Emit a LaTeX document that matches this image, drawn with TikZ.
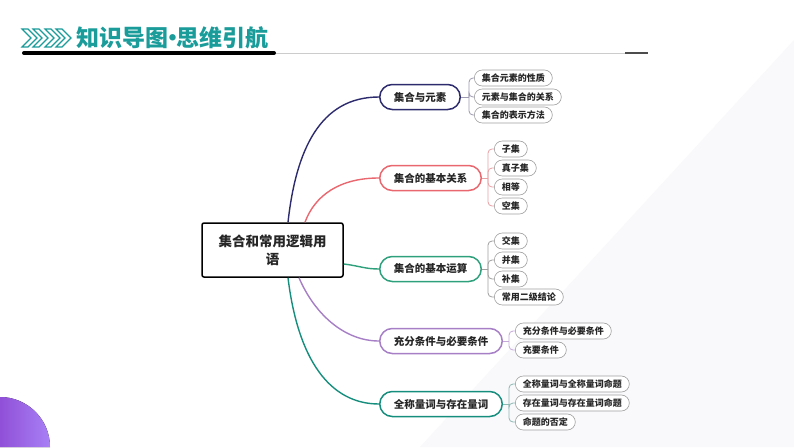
\documentclass[tikz,border=0pt]{standalone}
\usepackage{fontspec}
\setmainfont{Noto Sans CJK SC}
\definecolor{ttl}{HTML}{1A9C9A}
\definecolor{cnavy}{HTML}{2D2B6E}
\definecolor{cred}{HTML}{E9686F}
\definecolor{cgreen}{HTML}{2FA07C}
\definecolor{cpurp}{HTML}{A67FC6}
\definecolor{cteal}{HTML}{168E7E}
\definecolor{bk1}{HTML}{9E9AB0}
\definecolor{bk2}{HTML}{E8A0A5}
\definecolor{bk3}{HTML}{A0A0A0}
\definecolor{bk4}{HTML}{C5AAD8}
\definecolor{bk5}{HTML}{8FB8B2}
\definecolor{bgf}{HTML}{F9F9FC}
\definecolor{pl}{HTML}{9050D8}
\definecolor{pr}{HTML}{A880F5}
\begin{document}
\begin{tikzpicture}[x=1pt,y=-1pt,
  branch/.style={draw=#1, line width=1.5pt, rounded corners=12.5pt, fill=white, minimum height=25pt, inner xsep=14pt, inner ysep=0pt, font=\fontsize{10.5}{12}\selectfont\bfseries, text=black!85, anchor=west},
  leaf/.style={draw=gray!75, line width=0.6pt, rounded corners=8pt, fill=white, minimum height=16pt, inner xsep=7.5pt, inner ysep=0pt, font=\fontsize{9}{10}\selectfont\bfseries, text=black!85, anchor=west},
  link/.style={line width=1.4pt, draw=#1},
  brk/.style={line width=0.8pt, draw=#1, rounded corners=4pt},
  chev/.style={draw=ttl, line width=1.1pt, line join=miter}]
\useasboundingbox (0,0) rectangle (794,447);
\fill[white] (0,0) rectangle (794,447);
\fill[bgf] (420,447) -- (794,40) -- (794,447) -- cycle;
% purple corner
\fill[left color=pl, right color=pr] (0,447) -- (0,397) arc[start angle=-90, end angle=0, radius=50] -- cycle;
% title
\foreach \x in {22,33,45,56}{
  \draw[chev] (\x,29) -- ++(6,0) -- ++(9,9) -- ++(-9,9) -- ++(-6,0) -- ++(9,-9) -- cycle;}
\node[anchor=west, text=ttl, inner sep=0pt, font=\fontsize{23}{24}\selectfont\bfseries] (title) at (76,38) {知识导图\hspace{-7pt}·\hspace{-8pt}思维引航};
\draw[line width=4pt, line cap=round] (24,53) -- (274,53);
\draw[gray!40, line width=0.6pt] (276,53) -- (625,53);
\draw[gray!60!black, line width=2pt] (625,53) -- (648,53);
% central
\node[draw, line width=1.5pt, rounded corners=2pt, fill=white, minimum width=141pt, minimum height=54pt, align=center, font=\fontsize{13.5}{18}\selectfont\bfseries, text=black!85] (c) at (272.5,250) {集合和常用逻辑用\\语};
% branches
\node[branch=cnavy] (n1) at (379,97) {集合与元素};
\node[branch=cred] (n2) at (379,178) {集合的基本关系};
\node[branch=cgreen] (n3) at (379,269) {集合的基本运算};
\node[branch=cpurp] (n4) at (379,341) {充分条件与必要条件};
\node[branch=cteal] (n5) at (379,404) {全称量词与存在量词};
% links
\draw[link=cnavy] ([xshift=15.5pt]c.north) .. controls (296,150) and (320,97) .. (n1.west);
\draw[link=cred] ([xshift=32.5pt]c.north) .. controls (315,195) and (340,178) .. (n2.west);
\draw[link=cgreen] ([yshift=-14pt]c.east) .. controls (360,266) and (365,269) .. (n3.west);
\draw[link=cpurp] ([xshift=26.5pt]c.south) .. controls (315,315) and (345,341) .. (n4.west);
\draw[link=cteal] ([xshift=15.5pt]c.south) .. controls (298,360) and (330,404) .. (n5.west);
% leaves group 1
\node[leaf] (l11) at (474,78) {集合元素的性质};
\node[leaf] (l12) at (474,97) {元素与集合的关系};
\node[leaf] (l13) at (474,115) {集合的表示方法};
\coordinate (j1) at (469,97);
\draw[brk=bk1] (n1.east) -- (j1);
\foreach \l in {l11,l12,l13}{\draw[brk=bk1] (j1) |- (\l.west);}
% group 2
\node[leaf] (l21) at (494,149) {子集};
\node[leaf] (l22) at (494,168) {真子集};
\node[leaf] (l23) at (494,187) {相等};
\node[leaf] (l24) at (494,206) {空集};
\coordinate (j2) at (488,178);
\draw[brk=bk2] (n2.east) -- (j2);
\foreach \l in {l21,l22,l23,l24}{\draw[brk=bk2] (j2) |- (\l.west);}
% group 3
\node[leaf] (l31) at (494,241) {交集};
\node[leaf] (l32) at (494,260) {并集};
\node[leaf] (l33) at (494,279) {补集};
\node[leaf] (l34) at (494,297) {常用二级结论};
\coordinate (j3) at (488,269);
\draw[brk=bk3] (n3.east) -- (j3);
\foreach \l in {l31,l32,l33,l34}{\draw[brk=bk3] (j3) |- (\l.west);}
% group 4
\node[leaf] (l41) at (515,331) {充分条件与必要条件};
\node[leaf] (l42) at (515,350) {充要条件};
\coordinate (j4) at (509,341);
\draw[brk=bk4] (n4.east) -- (j4);
\foreach \l in {l41,l42}{\draw[brk=bk4] (j4) |- (\l.west);}
% group 5
\node[leaf] (l51) at (515,384) {全称量词与全称量词命题};
\node[leaf] (l52) at (515,403) {存在量词与存在量词命题};
\node[leaf] (l53) at (515,422) {命题的否定};
\coordinate (j5) at (509,404);
\draw[brk=bk5] (n5.east) -- (j5);
\foreach \l in {l51,l52,l53}{\draw[brk=bk5] (j5) |- (\l.west);}
\end{tikzpicture}
\end{document}
